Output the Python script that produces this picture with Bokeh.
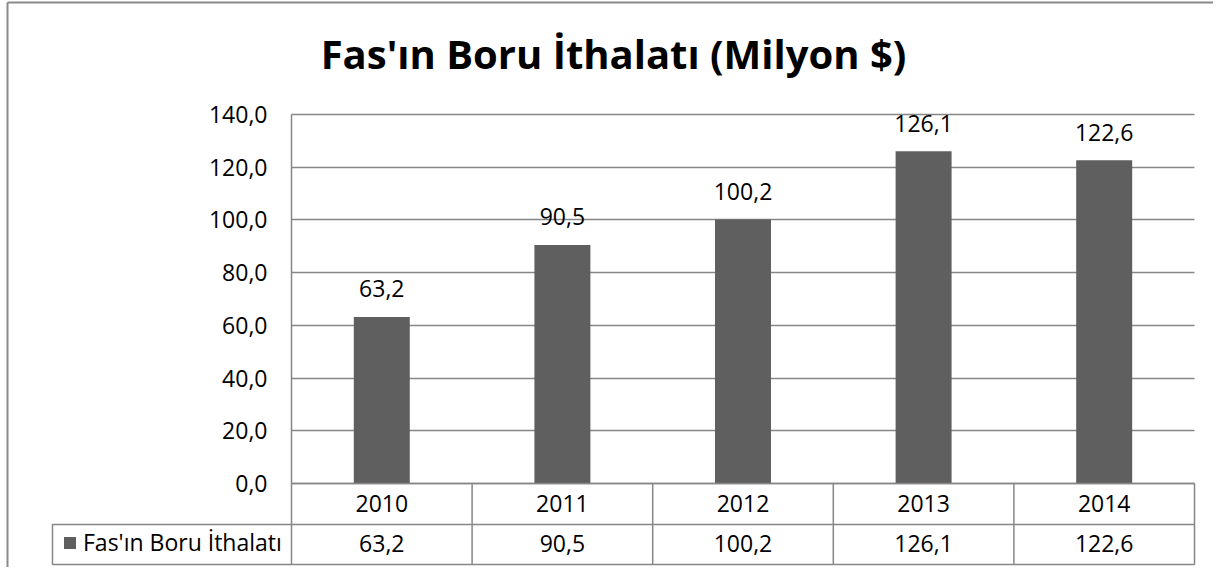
from bokeh.plotting import figure
from bokeh.models import (Range1d, LinearAxis, FixedTicker, Legend, LegendItem, Grid,
                          ColumnDataSource)
from bokeh.core.properties import value
from bokeh.embed import file_html
from bokeh.resources import INLINE

# ---- data -------------------------------------------------------------
title_text = "Fas'ın Boru İthalatı (Milyon $)"
series_name = "Fas'ın Boru İthalatı"
years = ["2010", "2011", "2012", "2013", "2014"]
imports = [63.2, 90.5, 100.2, 126.1, 122.6]
y_ticks = [0, 20, 40, 60, 80, 100, 120, 140]


def tr(v):
    return f"{v:.1f}".replace(".", ",")


# ---- styles / layout (pixel geometry of the chart) --------------------
FONT = "Open Sans"
GRID = "#868686"
BAR = "#5f5f5f"
FS = "23px"
W, H = 1213, 567
PLOT_LEFT, ZERO_Y = 291, 483        # px position of the value axis / zero line
CAT_PX = 180.6                      # px width of one category column
PY = 369 / 140                      # px per y unit
ROW_PX = 40.6                       # px height of one data-table row
LEG_PX = 239                        # px width of the legend-key column

n = len(years)


def xd(px):
    return 0.5 + (px - PLOT_LEFT) / CAT_PX


def yd(py):
    return (ZERO_Y - py) / PY


ROW = ROW_PX / PY
centers = list(range(1, n + 1))                  # category centres
bounds = [c + 0.5 for c in centers]              # column boundaries
x_first, x_last = 0.5, n + 0.5
x_leg = xd(PLOT_LEFT - LEG_PX)

p = figure(width=W, height=H, output_backend="svg", toolbar_location=None,
           x_range=Range1d(xd(0), xd(W)), y_range=Range1d(yd(H), yd(0)),
           x_axis_location=None, y_axis_location=None,
           min_border_left=0, min_border_right=0, min_border_top=0, min_border_bottom=0)
p.outline_line_color = None
p.background_fill_color = "white"
p.border_fill_color = "white"
p.xgrid.visible = False
p.ygrid.visible = False

# outer chart frame (left and top edges visible in the picture)
p.segment(x0=[xd(7), xd(7)], y0=[yd(2), yd(2)], x1=[xd(7), xd(W)], y1=[yd(H), yd(2)],
          line_color="#8a8a8a", line_width=2)

# title
p.text(x=[xd(613)], y=[yd(53)], text=[title_text],
       text_font=value(FONT), text_font_size="40px", text_font_style="bold",
       text_color="black", text_align="center", text_baseline="middle")

# horizontal grid lines, only across the category columns
grid_kw = dict(dimension=1, ticker=FixedTicker(ticks=y_ticks),
               grid_line_color=GRID, grid_line_width=1.5)
if "cross_bounds" in Grid.properties():
    p.add_layout(Grid(cross_bounds=(x_first, x_last), **grid_kw))
else:
    p.segment(x0=[x_first] * len(y_ticks), x1=[x_last] * len(y_ticks),
              y0=y_ticks, y1=y_ticks, line_color=GRID, line_width=1.5)

src = ColumnDataSource(dict(x=centers, value=imports, label=[tr(v) for v in imports]))
bars = p.vbar(x="x", top="value", width=0.31, source=src,
              fill_color=BAR, line_color=None)
p.text(x="x", y="value", text="label", source=src,
       text_font=value(FONT), text_font_size=FS, text_color="black",
       text_align="center", text_baseline="alphabetic", y_offset=-28)

# value axis at the left edge of the category columns
yax = LinearAxis(fixed_location=x_first, bounds=(-2 * ROW, y_ticks[-1]),
                 ticker=FixedTicker(ticks=y_ticks),
                 major_label_overrides={t: tr(t) for t in y_ticks},
                 major_label_text_font=FONT, major_label_text_font_size=FS,
                 major_label_text_color="black", major_label_standoff=24,
                 major_tick_in=0, major_tick_out=0, minor_tick_in=0, minor_tick_out=0,
                 axis_line_color=GRID, axis_line_width=1.5)
p.add_layout(yax, "left")


# data table rows drawn as axes placed at fixed heights
def table_axis(loc, overrides, bnds):
    ax = LinearAxis(fixed_location=loc, bounds=bnds,
                    ticker=FixedTicker(ticks=list(overrides.keys())),
                    major_label_overrides=overrides,
                    major_label_text_font=FONT, major_label_text_font_size=FS,
                    major_label_text_color="black", major_label_standoff=11,
                    major_tick_in=0, major_tick_out=0, minor_tick_in=0, minor_tick_out=0,
                    axis_line_color=GRID, axis_line_width=1.5)
    p.add_layout(ax, "below")
    return ax


table_axis(0, {c: y for c, y in zip(centers, years)}, (x_first, x_last))
table_axis(-ROW, {c: tr(v) for c, v in zip(centers, imports)}, (x_leg, x_last))
table_axis(-2 * ROW, {}, (x_leg, x_last))

# column separators of the data table
p.segment(x0=bounds, y0=[0] * n, x1=bounds, y1=[-2 * ROW] * n,
          line_color=GRID, line_width=1.5)
# left edge of the legend-key cell
p.segment(x0=[x_leg], y0=[-ROW], x1=[x_leg], y1=[-2 * ROW],
          line_color=GRID, line_width=1.5)

legend = Legend(items=[LegendItem(label=series_name, renderers=[bars])],
                location=(PLOT_LEFT - LEG_PX + 10, 9), orientation="vertical",
                label_text_font=FONT, label_text_font_size=FS, label_text_color="black",
                glyph_width=15, glyph_height=15, label_height=15, label_standoff=6,
                padding=0, margin=0, spacing=0,
                border_line_color=None, background_fill_alpha=0)
p.add_layout(legend)

open("out.html", "w").write(file_html(p, INLINE))
